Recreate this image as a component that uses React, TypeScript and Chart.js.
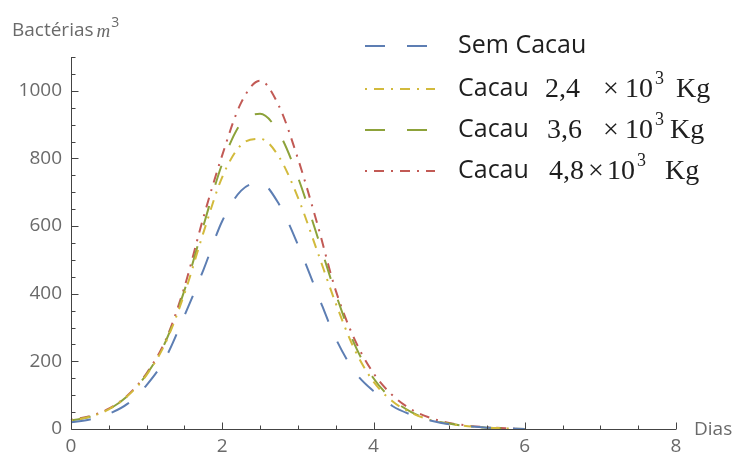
import React, { useEffect, useRef } from "react";
import { Chart, registerables } from "chart.js";

Chart.register(...registerables);

// ---- data ----
const days = [0, 0.25, 0.5, 0.75, 1, 1.25, 1.5, 1.75, 2, 2.25, 2.5, 2.75, 3, 3.25, 3.5, 3.75, 4, 4.25, 4.5, 4.75, 5, 5.25, 5.5, 5.75, 6];
const semCacau = [20, 28, 45, 75, 130, 210, 335, 470, 615, 705, 728, 665, 545, 405, 268, 170, 112, 68, 42, 25, 14, 8, 4, 2, 0];
const cacau24 = [25, 36, 58, 98, 160, 255, 400, 580, 745, 840, 858, 805, 685, 530, 372, 235, 140, 82, 48, 27, 15, 8, 4, 2, 0];
const cacau36 = [25, 36, 58, 98, 162, 258, 410, 600, 785, 905, 932, 875, 745, 575, 400, 250, 150, 88, 50, 28, 16, 8, 4, 2, 0];
const cacau48 = [27, 38, 60, 100, 165, 262, 420, 625, 810, 965, 1030, 955, 800, 612, 410, 265, 165, 100, 58, 33, 18, 10, 5, 2, 0];

const xTickLabels = [0, 2, 4, 6, 8];
const yTickLabels = [0, 200, 400, 600, 800, 1000];
const X_MAX = 8;
const Y_MAX = 1100;
const X_MINOR = 0.5;
const Y_MINOR = 50;

const legendPrefix = ["Sem Cacau", "Cacau", "Cacau", "Cacau"];
const legendAmount = ["", "2,4", "3,6", "4,8"];
const xAxisTitle = "Dias";
const yAxisTitle = "Bactérias";

// ---- styles ----
const COLORS = ["#5d7eb3", "#d2ba3c", "#8da23a", "#c25a55"];
const DASHES = [[20, 22], [2, 7, 10, 7], [20, 22], [2, 7, 10, 7]];
const AXIS_COLOR = "#444444";
const LABEL_COLOR = "#6a6a6a";
const SANS = "'Open Sans', 'DejaVu Sans', sans-serif";
const SERIF = "'Liberation Serif', 'DejaVu Serif', serif";

// legend layout
const LEG_ROW_Y = [46, 89, 130, 171];
const LEG_SWATCH = [365, 435];
const LEG_TEXT_X = 458;
const LEG_PIECES = [
  null,
  { amount: 545, times: 603, ten: 625, sup: 655, kg: 676 },
  { amount: 547, times: 603, ten: 625, sup: 655, kg: 670 },
  { amount: 549, times: 588, ten: 607, sup: 637, kg: 665 },
];

const decorPlugin = {
  id: "decor",
  afterDraw(chart: any) {
    const ctx: CanvasRenderingContext2D = chart.ctx;
    const xs = chart.scales.x;
    const ys = chart.scales.y;
    const x0 = Math.round(xs.getPixelForValue(0)) + 0.5;
    const y0 = Math.round(ys.getPixelForValue(0)) + 0.5;
    const yTop = ys.getPixelForValue(Y_MAX);
    const xEnd = xs.getPixelForValue(X_MAX);
    ctx.save();
    ctx.strokeStyle = AXIS_COLOR;
    ctx.lineWidth = 1;
    ctx.setLineDash([]);
    ctx.beginPath();
    ctx.moveTo(x0, yTop);
    ctx.lineTo(x0, y0);
    ctx.lineTo(xEnd, y0);
    ctx.stroke();
    // y ticks (inward)
    ctx.beginPath();
    for (let v = 0; v <= Y_MAX + 1e-6; v += Y_MINOR) {
      const major = yTickLabels.includes(v);
      const py = Math.round(ys.getPixelForValue(v)) + 0.5;
      ctx.moveTo(x0, py);
      ctx.lineTo(x0 + (major ? 7 : 4), py);
    }
    // x ticks (inward)
    for (let v = 0; v <= X_MAX + 1e-6; v += X_MINOR) {
      const major = xTickLabels.includes(v);
      const px = Math.round(xs.getPixelForValue(v)) + 0.5;
      ctx.moveTo(px, y0);
      ctx.lineTo(px, y0 - (major ? 7 : 4));
    }
    ctx.stroke();

    // axis titles
    ctx.fillStyle = LABEL_COLOR;
    ctx.font = `19px ${SANS}`;
    ctx.textBaseline = "middle";
    ctx.textAlign = "left";
    ctx.fillText(xAxisTitle, 694, y0);
    ctx.fillText(yAxisTitle, 12, 31);
    const w = ctx.measureText(yAxisTitle).width;
    ctx.font = `italic 19px ${SERIF}`;
    ctx.fillText("m", 12 + w + 3, 32);
    const wm = ctx.measureText("m").width;
    ctx.font = `14px ${SANS}`;
    ctx.fillText("3", 12 + w + 3 + wm + 1, 23);

    // legend
    for (let i = 0; i < 4; i++) {
      const y = LEG_ROW_Y[i];
      ctx.strokeStyle = COLORS[i];
      ctx.lineWidth = 2;
      ctx.setLineDash(DASHES[i]);
      ctx.beginPath();
      ctx.moveTo(LEG_SWATCH[0], y);
      ctx.lineTo(LEG_SWATCH[1], y);
      ctx.stroke();
      ctx.setLineDash([]);
      ctx.fillStyle = "#1e1e1e";
      ctx.font = `25px ${SANS}`;
      ctx.fillText(legendPrefix[i], LEG_TEXT_X, y);
      const p = LEG_PIECES[i];
      if (p) {
        ctx.font = `28px ${SERIF}`;
        ctx.fillText(legendAmount[i], p.amount, y + 1);
        ctx.fillText("×", p.times, y + 1);
        ctx.fillText("10", p.ten, y + 1);
        ctx.fillText("Kg", p.kg, y + 1);
        ctx.font = `18px ${SERIF}`;
        ctx.fillText("3", p.sup, y - 10);
      }
    }
    ctx.restore();
  },
};

export default function App() {
  const ref = useRef<HTMLCanvasElement | null>(null);
  useEffect(() => {
    if (!ref.current) return;
    const series = [semCacau, cacau24, cacau36, cacau48];
    const names = ["Sem Cacau", "Cacau 2,4 ×10³ Kg", "Cacau 3,6 ×10³ Kg", "Cacau 4,8 ×10³ Kg"];
    const chart = new Chart(ref.current, {
      type: "line",
      data: {
        datasets: series.map((s, i) => ({
          label: names[i],
          data: days.map((d, k) => ({ x: d, y: s[k] })),
          borderColor: COLORS[i],
          borderWidth: 2,
          borderDash: DASHES[i],
          pointRadius: 0,
          fill: false,
          cubicInterpolationMode: "monotone",
          clip: 4,
        })),
      },
      options: {
        animation: false,
        responsive: false,
        devicePixelRatio: 1,
        layout: { padding: { left: 0, right: 56, top: 57, bottom: 0 } },
        plugins: { legend: { display: false }, tooltip: { enabled: false } },
        scales: {
          x: {
            type: "linear",
            min: 0,
            max: X_MAX,
            grid: { display: false, drawTicks: false },
            border: { display: false },
            afterBuildTicks: (s: any) => {
              s.ticks = xTickLabels.map((v) => ({ value: v }));
            },
            afterFit: (s: any) => {
              s.height = 26;
            },
            ticks: {
              padding: 6,
              color: LABEL_COLOR,
              font: { family: SANS, size: 19 },
              maxRotation: 0,
              callback: (v: any) => String(v),
            },
          },
          y: {
            type: "linear",
            min: 0,
            max: Y_MAX,
            grid: { display: false, drawTicks: false },
            border: { display: false },
            afterBuildTicks: (s: any) => {
              s.ticks = yTickLabels.map((v) => ({ value: v }));
            },
            afterFit: (s: any) => {
              s.width = 71;
            },
            ticks: {
              padding: 9,
              color: LABEL_COLOR,
              font: { family: SANS, size: 19 },
              callback: (v: any) => String(v),
            },
          },
        },
      },
      plugins: [decorPlugin],
    } as any);
    return () => chart.destroy();
  }, []);
  return (
    <div style={{ position: "fixed", left: 0, top: 0, width: 732, height: 455, background: "#fff" }}>
      <canvas ref={ref} width={732} height={455} style={{ display: "block" }} />
    </div>
  );
}
